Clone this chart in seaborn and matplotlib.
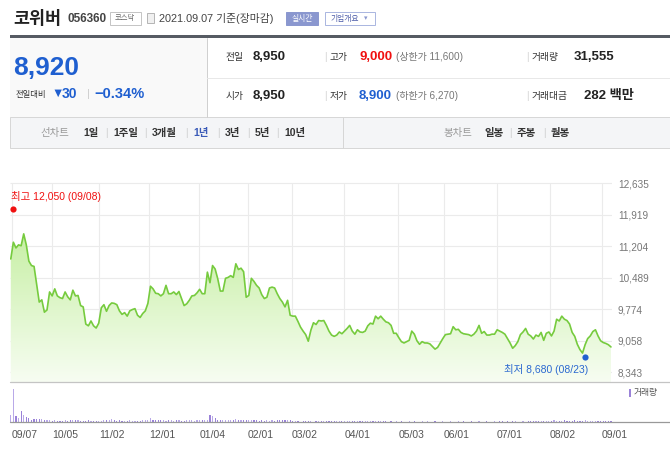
import numpy as np
import matplotlib
matplotlib.use('Agg')
import matplotlib.pyplot as plt
import seaborn as sns
from matplotlib.patches import Rectangle
from matplotlib.lines import Line2D
from matplotlib.colors import LinearSegmentedColormap

# 코위버 (056360) - fechamentos diários, 2020.09.07 ~ 2021.09.07
precos = [
    10920, 11300, 11170, 11240, 11220, 11490, 11240, 10870, 10770, 10750,
    10340, 9940, 9990, 9710, 9760, 10170, 10080, 10240, 10080, 10040,
    10020, 10170, 10060, 9990, 10210, 10080, 10090, 9860, 9830, 9440,
    9400, 9510, 9400, 9350, 9460, 9810, 9880, 9730, 9860, 9920,
    9910, 9880, 9740, 9660, 9700, 9620, 9740, 9770, 9790, 9640,
    9590, 9680, 9740, 9910, 10300, 10240, 10140,
    10130, 10080, 10130, 10320, 10130, 10130, 10170, 10110, 10180, 10020,
    9860, 9900, 9980, 10080, 10090, 10150, 10230, 10130, 10130, 10620,
    10380, 10770, 10690, 10470, 10190, 10190, 10480, 10500, 10540, 10500,
    10810, 10680, 10710, 10630, 10050, 10090, 10480, 10410, 10320, 10260,
    10110, 10020, 10050, 10260, 10280, 10260, 10130, 10020, 9940, 9830,
    9980, 9640, 9620, 9620, 9500, 9370, 9280, 9200, 9050, 9300,
    9470, 9430, 9520, 9510, 9520, 9410, 9280, 9190, 9160, 9190,
    9260, 9220, 9280, 9340, 9410, 9280, 9210, 9310, 9260, 9250,
    9280, 9400, 9460, 9440, 9620, 9560, 9620, 9550, 9490, 9470,
    9410, 9230, 9230, 9130, 9040, 9010, 9040, 9070, 9280, 9210,
    9060, 8980, 9040, 9010, 9010, 8990, 8930, 8870, 8910, 9010,
    9110, 9200, 9210, 9220, 9380, 9310, 9320, 9250,
    9220, 9210, 9200, 9170, 9210, 9280, 9410, 9230, 9270, 9190,
    9190, 9210, 9210, 9310, 9280, 9250, 9210, 9110, 9010, 8890,
    8950, 9040, 9200, 9260, 9340, 9210, 9170, 9100, 9190, 9160,
    9250, 9070, 9230, 9260, 9170, 9280, 9550, 9510, 9620, 9550,
    9520, 9440, 9250, 9160, 8980, 8860, 8780, 8970, 9110, 9170,
    9270, 9310, 9170, 9060, 9020, 9000, 8970, 8920,
]

# volume (mil ações)
volume = [
    150, 700, 120, 90, 230, 150, 110, 80, 45, 55,
    60, 55, 60, 50, 40, 35, 30, 35, 30, 25,
    30, 35, 30, 40, 50, 45, 35, 30, 25, 30,
    35, 30, 25, 20, 30, 25, 35, 40, 35, 55,
    40, 30, 35, 30, 25, 30, 35, 30, 25, 30,
    30, 35, 40, 45, 90, 45, 40, 35, 40, 35,
    30, 35, 40, 30, 45, 35, 30, 30, 35, 40,
    35, 30, 40, 45, 35, 40, 35, 140, 120, 90,
    50, 45, 40, 45, 40, 50, 45, 70, 45, 50,
    50, 45, 40, 35, 40, 35, 30, 35, 30, 35,
    30, 35, 30, 35, 40, 35, 50, 40, 35, 30,
    20, 15, 5, 20, 15, 20, 15, 5, 15, 20,
    15, 20, 15, 20, 25, 20, 15, 20, 15, 20,
    20, 25, 20, 15, 20, 25, 20, 15, 20, 15,
    20, 15, 20, 25, 20, 15, 5, 15, 5, 20,
    5, 15, 5, 5, 20, 5, 15, 5, 5, 20,
    5, 15, 5, 5, 15, 5, 5, 20, 5, 5,
    15, 5, 5, 20, 5, 15, 5, 5, 15, 5,
    5, 15, 5, 5, 20, 5, 5, 15, 5, 20,
    15, 5, 20, 5, 15, 20, 5, 5, 15, 5,
    20, 30, 25, 20, 25, 30, 25, 20, 25, 30,
    35, 30, 25, 30, 35, 30, 25, 30, 35, 30,
    25, 30, 35, 30, 25, 20, 25, 30, 20, 25,
    20, 25, 20,
]

# posição (índice do pregão) dos rótulos de data
tick_idx = [0.4, 16.1, 34.1, 53.6, 72.9, 91.7, 108.6, 128.9, 149.8, 167.3, 187.8, 208.3, 228.4]
tick_labels = ['09/07', '10/05', '11/02', '12/01', '01/04', '02/01', '03/02',
               '04/01', '05/03', '06/01', '07/01', '08/02', '09/01']
y_ticks = [8343, 9058, 9774, 10489, 11204, 11919, 12635]

maxima, maxima_data, maxima_idx = 12050, '09/08', 1
minima, minima_data, minima_idx = 8680, '08/23', 222

W, H = 670, 457

sns.set_style('white')
plt.rcParams['font.family'] = ['Liberation Sans', 'Noto Sans CJK KR', 'DejaVu Sans']
plt.rcParams['axes.unicode_minus'] = False

fig = plt.figure(figsize=(W / 100, H / 100), dpi=100)
fig.patch.set_facecolor('white')


def fx(x):
    return x / W


def fy(y):
    return 1 - y / H


def rect(x0, y0, x1, y1):
    return [fx(x0), fy(y1), (x1 - x0) / W, (y1 - y0) / H]


def txt(x, y, s, size, color='#333333', weight='normal', ha='left', va='center'):
    fig.text(fx(x), fy(y), s, fontsize=size, color=color, fontweight=weight, ha=ha, va=va)


def caixa(x0, y0, x1, y1, fc='none', ec='none', lw=0.7):
    fig.add_artist(Rectangle((fx(x0), fy(y1)), (x1 - x0) / W, (y1 - y0) / H,
                             transform=fig.transFigure, fc=fc, ec=ec, lw=lw))


def linha(x0, y0, x1, y1, color='#d6d6d6', lw=0.72):
    fig.add_artist(Line2D([fx(x0), fx(x1)], [fy(y0), fy(y1)], transform=fig.transFigure,
                          color=color, lw=lw))


# ---------------- cabeçalho ----------------
txt(13, 18, '코위버', 12.5, '#222222', 'bold')
txt(67, 19, '056360', 8.5, '#444444', 'bold')
caixa(110, 12.5, 140.5, 24.5, fc='white', ec='#c4c4c4')
txt(125.2, 18.7, '코스닥', 5.3, '#666666', ha='center')
caixa(147, 13.5, 154, 22.5, fc='#f0f0f0', ec='#aaaaaa', lw=0.6)
txt(159, 18.5, '2021.09.07 기준(장마감)', 7.8, '#444444')
caixa(286, 12.5, 318, 25, fc='#8a97cf', ec='#8a97cf')
txt(302, 18.8, '실시간', 5.6, 'white', ha='center')
caixa(325, 12.5, 375, 25, fc='white', ec='#a9b5e0')
txt(345, 18.8, '기업개요', 5.6, '#4b5ba8', ha='center')
txt(364, 18.8, '▾', 5, '#8a97cf')

caixa(10, 35, 670, 38, fc='#565b63')

# bloco de cotação
caixa(10, 38, 207, 117, fc='#f9f9f9')
linha(207, 38, 207, 117, '#d0d0d0')
linha(207, 78, 670, 78, '#e8e8e8')

txt(13, 68, '8,920', 19, '#1f5fd0', 'bold')
txt(16, 94.5, '전일대비', 6, '#333333')
txt(51, 94, '▼', 9, '#1f5fd0')
txt(62, 94, '30', 10, '#1f5fd0', 'bold')
txt(87, 94, '|', 8, '#cccccc')
txt(94, 94, '−0.34%', 10.5, '#1f5fd0', 'bold')

linhas_info = [
    (57, [('전일', '8,950', '#222222', ''), ('고가', '9,000', '#f01010', '(상한가 11,600)'),
          ('거래량', '31,555', '#222222', '')]),
    (96, [('시가', '8,950', '#222222', ''), ('저가', '8,900', '#1f5fd0', '(하한가 6,270)'),
          ('거래대금', '282 백만', '#222222', '')]),
]
colunas = [(226, 253), (330, 359), (532, None)]
for y, itens in linhas_info:
    for k, (rot, val, cor, extra) in enumerate(itens):
        x_rot, x_val = colunas[k]
        if k > 0:
            txt(x_rot - 6, y, '|', 7, '#d0d0d0')
        txt(x_rot, y, rot, 7, '#333333')
        if x_val is None:
            x_val = x_rot + (42 if len(rot) == 3 else 52)
        txt(x_val, y, val, 9.5, cor, 'bold')
        if extra:
            txt(396, y, extra, 7.2, '#777777')

# barra de períodos
caixa(10, 117, 670, 148, fc='#f4f5f7', ec='#d6d6d6')
linha(343, 117, 343, 148, '#d6d6d6')
txt(40, 133, '선차트', 7.5, '#999999')
periodos = [('1일', 83), ('1주일', 113), ('3개월', 152), ('1년', 193), ('3년', 225), ('5년', 255), ('10년', 284)]
for k, (p, x) in enumerate(periodos):
    if k > 0:
        txt(x - 8, 133, '|', 7, '#cccccc')
    txt(x, 133, p, 7.5, '#3a5bb8' if p == '1년' else '#333333', 'bold')
txt(443, 133, '봉차트', 7.5, '#999999')
for k, (p, x) in enumerate([('일봉', 484), ('주봉', 517), ('월봉', 551)]):
    if k > 0:
        txt(x - 8, 133, '|', 7, '#cccccc')
    txt(x, 133, p, 7.5, '#333333', 'bold')

# ---------------- gráfico de preço ----------------
idx = np.arange(len(precos))
x_min, x_max = -0.3, 232.4
y_bot, y_top = 8123, 12828

ax = fig.add_axes(rect(10, 175, 612, 382))
ax.hlines(y_ticks, x_min, x_max, color='#ebebeb', lw=0.8, zorder=0)
ax.vlines(tick_idx, y_bot, y_ticks[-1], color='#ebebeb', lw=0.8, zorder=0)

verde = LinearSegmentedColormap.from_list('verde', ['#f7fdf2', '#c6efa3'])
area = ax.fill_between(idx, precos, y_bot, color='none', lw=0)
grad = np.linspace(0, 1, 256).reshape(-1, 1)
im = ax.imshow(grad, extent=[x_min, x_max, y_bot, 11600], origin='lower', aspect='auto',
               cmap=verde, zorder=1)
im.set_clip_path(area.get_paths()[0], transform=ax.transData)

sns.lineplot(x=idx, y=precos, ax=ax, color='#76cb3e', linewidth=1.2, zorder=3)

ax.scatter([maxima_idx], [maxima], s=20, color='#f01010', zorder=4, linewidths=0)
ax.scatter([minima_idx], [minima], s=20, color='#1f5fd0', zorder=4, linewidths=0)
ax.annotate(f'최고 {maxima:,} ({maxima_data})', xy=(maxima_idx, maxima), xytext=(-1.7, 9.5),
            textcoords='offset points', ha='left', va='center', fontsize=7.5, color='#f01010')
ax.annotate(f'최저 {minima:,} ({minima_data})', xy=(minima_idx, minima), xytext=(2.2, -9),
            textcoords='offset points', ha='right', va='center', fontsize=7.5, color='#2a68d0')

ax.set_xlim(x_min, x_max)
ax.set_ylim(y_bot, y_top)
ax.yaxis.tick_right()
ax.set_yticks(y_ticks)
ax.set_yticklabels([f'{v:,}' for v in y_ticks], fontsize=7.2, color='#777777')
ax.tick_params(axis='y', length=0, pad=4.3)
ax.set_xticks([])
ax.set_xlabel('')
ax.set_ylabel('')
for s in ax.spines.values():
    s.set_visible(False)
ax.set_facecolor('none')

# ---------------- volume ----------------
axv = fig.add_axes(rect(10, 382, 612, 422))
cores = ['#b9a9e8' if i == 0 or precos[i] >= precos[i - 1] else '#9a82d8' for i in idx]
axv.bar(idx, volume, width=0.45, color=cores, lw=0)
axv.set_xlim(x_min, x_max)
axv.set_ylim(0, 840)
axv.set_yticks([])
axv.set_xticks(tick_idx)
axv.set_xticklabels(tick_labels, fontsize=7.5, color='#555555', ha='left')
axv.tick_params(axis='x', length=3, width=0.7, color='#999999', pad=3)
for s in axv.spines.values():
    s.set_visible(False)
axv.set_facecolor('none')

linha(10, 382, 670, 382, '#c4c4c4', 0.9)
linha(10, 422, 670, 422, '#999999', 0.9)
caixa(629, 389, 631, 397, fc='#9a82d8')
txt(634, 393, '거래량', 6.3, '#555555')

fig.savefig('out.png', dpi=100, facecolor='white')
